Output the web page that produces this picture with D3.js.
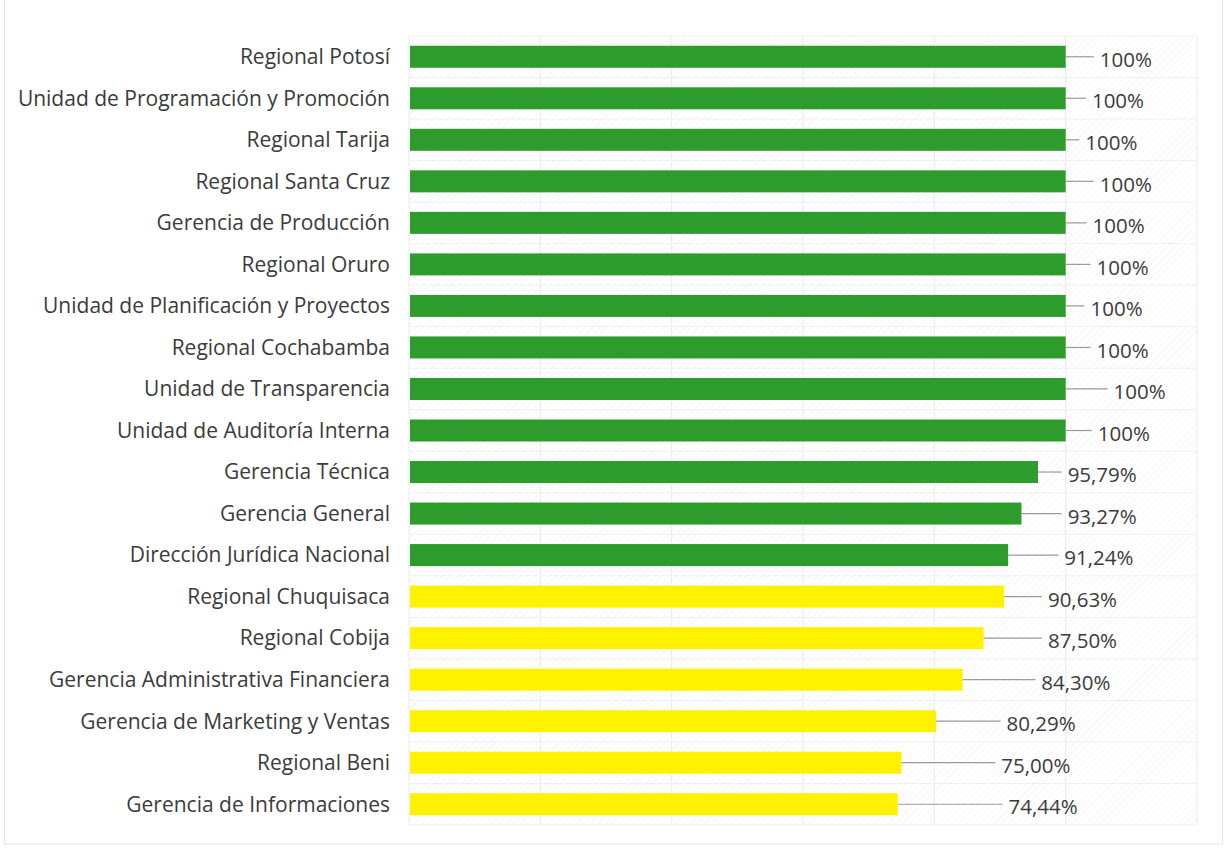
<!DOCTYPE html>
<html>
<head>
<meta charset="utf-8">
<script src="https://cdn.jsdelivr.net/npm/d3@7"></script>
<style>
  body { margin: 0; background: #fff; }
  svg { display: block; }
</style>
</head>
<body>
<svg width="1227" height="848"></svg>
<script>
// categories top to bottom
const categories = [
  "Regional Potosí",
  "Unidad de Programación y Promoción",
  "Regional Tarija",
  "Regional Santa Cruz",
  "Gerencia de Producción",
  "Regional Oruro",
  "Unidad de Planificación y Proyectos",
  "Regional Cochabamba",
  "Unidad de Transparencia",
  "Unidad de Auditoría Interna",
  "Gerencia Técnica",
  "Gerencia General",
  "Dirección Jurídica Nacional",
  "Regional Chuquisaca",
  "Regional Cobija",
  "Gerencia Administrativa Financiera",
  "Gerencia de Marketing y Ventas",
  "Regional Beni",
  "Gerencia de Informaciones"
];
const values = [1, 1, 1, 1, 1, 1, 1, 1, 1, 1,
  0.9579, 0.9327, 0.9124, 0.9063, 0.875, 0.843, 0.8029, 0.75, 0.7444];
const labels = ["100%", "100%", "100%", "100%", "100%", "100%", "100%", "100%", "100%", "100%",
  "95,79%", "93,27%", "91,24%", "90,63%", "87,50%", "84,30%", "80,29%", "75,00%", "74,44%"];
// where each data label was dragged to (axis units)
const labelAt = [1.052, 1.040, 1.030, 1.052, 1.041, 1.047, 1.038, 1.047, 1.073, 1.049,
  1.003, 1.003, 0.998, 0.973, 0.973, 0.963, 0.910, 0.902, 0.913];
const xTicks = [0, 0.2, 0.4, 0.6, 0.8, 1, 1.2];
const threshold = 0.91; // green at or above, yellow below

var svg = d3.select("svg");
const font = "'Open Sans', sans-serif";

// outer chart border
svg.append("rect")
  .attr("x", 4.5).attr("y", -2)
  .attr("width", 1218).attr("height", 846)
  .attr("fill", "none")
  .attr("stroke", "#e6e6e6");

const plot = {left: 409, right: 1197, top: 36, bottom: 825};

x = d3.scaleLinear().domain([0, 1.2]).range([plot.left, plot.right]);
y = d3.scaleBand().domain(categories).range([plot.top, plot.bottom]).paddingInner(0.47).paddingOuter(0.235);

// faint hatch in plot area
var defs = svg.append("defs");
var pat = defs.append("pattern")
  .attr("id", "hatch")
  .attr("patternUnits", "userSpaceOnUse")
  .attr("width", 5).attr("height", 5)
  .attr("patternTransform", "rotate(45)");
pat.append("line")
  .attr("x1", 0).attr("y1", 0).attr("x2", 0).attr("y2", 5)
  .attr("stroke", "#f4f5f7").attr("stroke-width", 1.5);

svg.append("rect")
  .attr("x", plot.left).attr("y", plot.top)
  .attr("width", plot.right - plot.left).attr("height", plot.bottom - plot.top)
  .attr("fill", "url(#hatch)");

// vertical gridlines
svg.append("g")
  .selectAll("line")
  .data(xTicks)
  .enter().append("line")
  .attr("x1", d => x(d)).attr("x2", d => x(d))
  .attr("y1", plot.top).attr("y2", plot.bottom)
  .attr("stroke", "#e9eaed");

// horizontal band lines
const step = y.step();
svg.append("g")
  .selectAll("line")
  .data(d3.range(categories.length + 1))
  .enter().append("line")
  .attr("x1", plot.left).attr("x2", plot.right)
  .attr("y1", i => plot.top + i * step).attr("y2", i => plot.top + i * step)
  .attr("stroke", "#eeeff1");

// bars
svg.append("g")
  .selectAll("rect")
  .data(categories)
  .enter().append("rect")
  .attr("x", x(0) + 1)
  .attr("y", d => y(d))
  .attr("width", (d, i) => x(values[i]) - x(0) - 1)
  .attr("height", y.bandwidth())
  .attr("fill", (d, i) => values[i] >= threshold ? "#2e9c2d" : "#fff200");

// category labels
svg.append("g")
  .selectAll("text")
  .data(categories)
  .enter().append("text")
  .attr("x", 390)
  .attr("y", d => y(d) + y.bandwidth() / 2)
  .attr("dy", "0.35em")
  .attr("text-anchor", "end")
  .attr("font-family", font)
  .attr("font-size", 21)
  .attr("fill", "#3b3b3b")
  .text(d => d);

// leader lines
svg.append("g")
  .selectAll("line")
  .data(categories)
  .enter().append("line")
  .attr("x1", (d, i) => x(values[i]))
  .attr("x2", (d, i) => x(labelAt[i]) - 6)
  .attr("y1", d => y(d) + y.bandwidth() / 2)
  .attr("y2", d => y(d) + y.bandwidth() / 2)
  .attr("stroke", "#9a9a9a")
  .attr("stroke-width", 1.2);

// value labels
svg.append("g")
  .selectAll("text")
  .data(categories)
  .enter().append("text")
  .attr("x", (d, i) => x(labelAt[i]))
  .attr("y", d => y(d) + y.bandwidth() / 2 + 3)
  .attr("dy", "0.35em")
  .attr("font-family", font)
  .attr("font-size", 20.5)
  .attr("fill", "#3b3b3b")
  .text((d, i) => labels[i]);
</script>
</body>
</html>
